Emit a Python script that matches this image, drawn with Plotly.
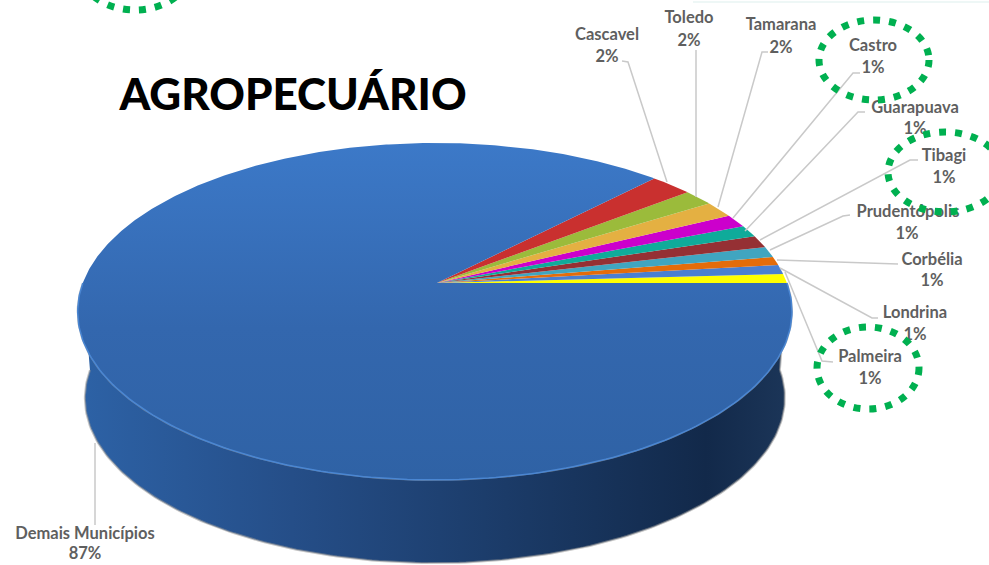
import numpy as np
import plotly.graph_objects as go

# ---- data ----
municipios = ["Palmeira", "Londrina", "Corbélia", "Prudentópolis", "Tibagi", "Guarapuava",
              "Castro", "Tamarana", "Toledo", "Cascavel", "Demais Municípios"]
shares = [0.9, 0.9, 0.83, 1.05, 1.2, 1.15, 1.3, 1.6, 1.6, 2.25, 87.22]
rotulos = ["1%", "1%", "1%", "1%", "1%", "1%", "1%", "2%", "2%", "2%", "87%"]
cores = ["#FFFF00", "#4A7FD1", "#E46C0A", "#40A5C0", "#953034", "#0FAB9A",
         "#CC00CC", "#E4B042", "#9BBB3B", "#C9302F", None]

# label placement (pixels)
nome_x = [870, 915, 932, 908, 944, 915, 873, 781, 689, 607, 85]
nome_y = [358, 314, 261, 213, 157, 109, 47, 26, 19, 36, 535]
pct_x = [870, 915, 932, 907, 944, 915, 873, 781, 689, 607, 85]
pct_y = [380, 336, 282, 235, 179, 130, 69, 49, 42, 58, 555]
# leader polylines (pixels)
guia_x = [[785, 822, 833], [780, 872, 878], [777, 898], [770, 843, 850], [760, 910, 918],
          [745, 858, 865], [733, 853, 860], [718, 762, 768], [696, 696], [667, 628, 622], [95, 95]]
guia_y = [[272, 361, 362], [268, 318, 318], [260, 264], [250, 216, 215], [240, 160, 160],
          [231, 112, 112], [218, 73, 73], [207, 52, 52], [197, 50], [182, 62, 61], [443, 525]]

# projection of the pie (perspective disc)
CX, CY, A, B, K, J = 437.0, 283.0, 352.0, 163.7, 0.169, 0.006
S2, D2 = 0.98, 87.0


def proj(deg, s=1.0, d=0.0):
    t = np.radians(np.asarray(deg, dtype=float))
    u, v = np.cos(t), np.sin(t)
    w = 1 + K * v + J * u
    return CX + s * A * u / w, CY + d - s * B * v / w


fig = go.Figure()

# side wall
ang_low = np.linspace(180, 360, 181)
xb, yb = proj(ang_low, S2, D2)
xt, yt = proj(ang_low[::-1])
fig.add_trace(go.Scatter(
    x=np.r_[xb, xt], y=np.r_[yb, yt], mode="lines", fill="toself",
    line=dict(color="rgba(150,150,150,0.55)", width=2),
    fillgradient=dict(type="horizontal", colorscale=[
        [0, "#2D62A6"], [0.3, "#254E88"], [0.6, "#1B3B68"], [0.88, "#12294A"], [1, "#1C3659"]]),
    hoverinfo="skip", showlegend=False))

# slices
bordas = np.r_[0, np.cumsum(shares)] * 3.6
for i, nome in enumerate(municipios):
    a0, a1 = bordas[i], bordas[i + 1]
    n = max(8, int((a1 - a0) * 2))
    rx, ry = proj(np.linspace(a0, a1, n))
    kw = {}
    if cores[i] is None:
        kw["fillgradient"] = dict(type="vertical", colorscale=[
            [0, "#2F62A5"], [0.45, "#3367AE"], [1, "#3C79C8"]])
    else:
        kw["fillcolor"] = cores[i]
    fig.add_trace(go.Scatter(
        x=np.r_[CX, rx, CX], y=np.r_[CY, ry, CY], mode="lines", fill="toself",
        line=dict(width=0), name=nome, hoverinfo="name", showlegend=False, **kw))

# lit rim at the front of the top face
hx, hy = proj(np.linspace(180, 360, 181))
fig.add_trace(go.Scatter(x=hx, y=hy, mode="lines", line=dict(color="#4A86D2", width=1.5),
                         hoverinfo="skip", showlegend=False))

# leaders
for gx, gy in zip(guia_x, guia_y):
    fig.add_trace(go.Scatter(x=gx, y=gy, mode="lines", line=dict(color="#C9C9C9", width=1.5),
                             hoverinfo="skip", showlegend=False))

# labels as text traces, so the dotted rings lie over them
fonte = dict(family="Lato, sans-serif", size=16.5, color="#5F5F5F", weight=700)
fig.add_trace(go.Scatter(x=nome_x, y=nome_y, mode="text", text=municipios, textfont=fonte,
                         textposition="middle center", hoverinfo="skip", showlegend=False))
fig.add_trace(go.Scatter(x=pct_x, y=pct_y, mode="text", text=rotulos, textfont=fonte,
                         textposition="middle center", hoverinfo="skip", showlegend=False))
fig.add_trace(go.Scatter(x=[293], y=[99], mode="text", text=["AGROPECUÁRIO"],
                         textfont=dict(family="Lato, sans-serif", size=44, color="#000000", weight=900),
                         textposition="middle center", hoverinfo="skip", showlegend=False))

# dotted rings
aneis = [(874, 60, 55, 40), (945, 172, 57, 40), (868, 368, 51, 41), (135, -30, 55, 40)]
formas = [dict(type="circle", xref="x", yref="y", x0=c - rx, x1=c + rx, y0=m - ry, y1=m + ry,
               line=dict(color="#00B050", width=7, dash="7px,9px"), layer="above")
          for c, m, rx, ry in aneis]
formas.append(dict(type="line", xref="x", yref="y", x0=693, x1=989, y0=2, y1=2,
                   line=dict(color="#EEF7F6", width=2), layer="below"))

fig.update_layout(
    width=989, height=565, margin=dict(l=0, r=0, t=0, b=0),
    paper_bgcolor="white", plot_bgcolor="white", showlegend=False, shapes=formas,
    xaxis=dict(range=[0, 989], visible=False, fixedrange=True),
    yaxis=dict(range=[565, 0], visible=False, fixedrange=True),
)
fig.write_html("out.html", config={"displayModeBar": False},
               post_script="document.body.style.margin='0';document.documentElement.style.overflow='hidden';")
